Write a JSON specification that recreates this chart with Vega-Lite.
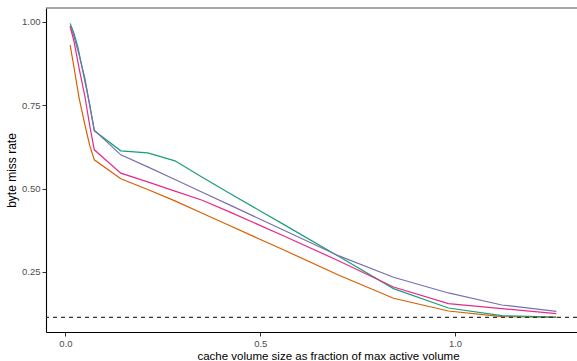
{
  "$schema": "https://vega.github.io/schema/vega-lite/v6.json",
  "width": 531,
  "height": 324,
  "autosize": {"type": "none"},
  "padding": {"left": 46, "top": 8, "right": 0, "bottom": 29},
  "background": "white",
  "config": {
    "view": {"stroke": null},
    "font": "Liberation Sans",
    "axis": {"grid": false}
  },
  "datasets": {
    "curves": [
      {"s": "orange", "x": 0.012, "y": 0.930}, {"s": "orange", "x": 0.022, "y": 0.862}, {"s": "orange", "x": 0.035, "y": 0.771}, {"s": "orange", "x": 0.05, "y": 0.690}, {"s": "orange", "x": 0.062, "y": 0.630}, {"s": "orange", "x": 0.074, "y": 0.586}, {"s": "orange", "x": 0.142, "y": 0.529}, {"s": "orange", "x": 0.211, "y": 0.497}, {"s": "orange", "x": 0.281, "y": 0.463}, {"s": "orange", "x": 0.351, "y": 0.426}, {"s": "orange", "x": 0.421, "y": 0.389}, {"s": "orange", "x": 0.562, "y": 0.315}, {"s": "orange", "x": 0.702, "y": 0.240}, {"s": "orange", "x": 0.842, "y": 0.171}, {"s": "orange", "x": 0.983, "y": 0.133}, {"s": "orange", "x": 1.12, "y": 0.116}, {"s": "orange", "x": 1.26, "y": 0.114},
      {"s": "green", "x": 0.012, "y": 0.995}, {"s": "green", "x": 0.022, "y": 0.965}, {"s": "green", "x": 0.032, "y": 0.923}, {"s": "green", "x": 0.05, "y": 0.820}, {"s": "green", "x": 0.062, "y": 0.753}, {"s": "green", "x": 0.074, "y": 0.673}, {"s": "green", "x": 0.142, "y": 0.613}, {"s": "green", "x": 0.211, "y": 0.607}, {"s": "green", "x": 0.281, "y": 0.583}, {"s": "green", "x": 0.351, "y": 0.534}, {"s": "green", "x": 0.421, "y": 0.486}, {"s": "green", "x": 0.562, "y": 0.391}, {"s": "green", "x": 0.702, "y": 0.296}, {"s": "green", "x": 0.842, "y": 0.200}, {"s": "green", "x": 0.983, "y": 0.142}, {"s": "green", "x": 1.12, "y": 0.119}, {"s": "green", "x": 1.26, "y": 0.115},
      {"s": "purple", "x": 0.012, "y": 0.988}, {"s": "purple", "x": 0.022, "y": 0.955}, {"s": "purple", "x": 0.035, "y": 0.900}, {"s": "purple", "x": 0.05, "y": 0.830}, {"s": "purple", "x": 0.062, "y": 0.750}, {"s": "purple", "x": 0.074, "y": 0.675}, {"s": "purple", "x": 0.142, "y": 0.601}, {"s": "purple", "x": 0.211, "y": 0.565}, {"s": "purple", "x": 0.281, "y": 0.527}, {"s": "purple", "x": 0.351, "y": 0.489}, {"s": "purple", "x": 0.421, "y": 0.451}, {"s": "purple", "x": 0.562, "y": 0.374}, {"s": "purple", "x": 0.702, "y": 0.298}, {"s": "purple", "x": 0.842, "y": 0.234}, {"s": "purple", "x": 0.983, "y": 0.187}, {"s": "purple", "x": 1.12, "y": 0.151}, {"s": "purple", "x": 1.26, "y": 0.132},
      {"s": "pink", "x": 0.012, "y": 0.985}, {"s": "pink", "x": 0.022, "y": 0.940}, {"s": "pink", "x": 0.035, "y": 0.860}, {"s": "pink", "x": 0.05, "y": 0.775}, {"s": "pink", "x": 0.062, "y": 0.690}, {"s": "pink", "x": 0.074, "y": 0.616}, {"s": "pink", "x": 0.142, "y": 0.546}, {"s": "pink", "x": 0.211, "y": 0.520}, {"s": "pink", "x": 0.281, "y": 0.492}, {"s": "pink", "x": 0.351, "y": 0.465}, {"s": "pink", "x": 0.421, "y": 0.430}, {"s": "pink", "x": 0.562, "y": 0.357}, {"s": "pink", "x": 0.702, "y": 0.283}, {"s": "pink", "x": 0.842, "y": 0.205}, {"s": "pink", "x": 0.983, "y": 0.155}, {"s": "pink", "x": 1.12, "y": 0.140}, {"s": "pink", "x": 1.26, "y": 0.125}
    ],
    "ref": [{"y": 0.114}]
  },
  "layer": [
    {
      "data": {"name": "curves"},
      "mark": {"type": "line", "strokeWidth": 1.2, "clip": true},
      "encoding": {
        "x": {
          "field": "x", "type": "quantitative",
          "scale": {"domain": [-0.05, 1.313], "nice": false, "zero": false},
          "axis": {
            "values": [0, 0.5, 1.0], "format": ".1f",
            "title": "cache volume size as fraction of max active volume",
            "titleFontSize": 11.5, "titleFontWeight": "normal", "titleColor": "#000000", "titlePadding": 3,
            "titleX": 282, "titleAlign": "center",
            "labelFontSize": 9.5, "labelColor": "#4d4d4d", "labelPadding": 2,
            "tickSize": 4, "tickColor": "#333333", "domainColor": "#000000", "domainWidth": 1.1
          }
        },
        "y": {
          "field": "y", "type": "quantitative",
          "scale": {"domain": [0.070, 1.041], "nice": false, "zero": false},
          "axis": {
            "values": [0.25, 0.5, 0.75, 1.0], "format": ".2f",
            "title": "byte miss rate",
            "titleFontSize": 12, "titleFontWeight": "normal", "titleColor": "#000000", "titlePadding": 3,
            "labelFontSize": 9.5, "labelColor": "#4d4d4d", "labelPadding": 2,
            "tickSize": 4, "tickColor": "#333333", "domainColor": "#000000", "domainWidth": 1.1
          }
        },
        "color": {
          "field": "s", "type": "nominal", "legend": null,
          "scale": {"domain": ["green", "orange", "purple", "pink"], "range": ["#1b9e77", "#d95f02", "#7570b3", "#e7298a"]}
        }
      }
    },
    {
      "data": {"name": "ref"},
      "mark": {"type": "rule", "strokeDash": [4, 4], "strokeWidth": 1.2, "color": "#333333"},
      "encoding": {
        "y": {"field": "y", "type": "quantitative"}
      }
    },
    {
      "data": {"name": "ref"},
      "mark": {"type": "rule", "strokeWidth": 1.2, "color": "#555555"},
      "encoding": {
        "y": {"datum": 1.041, "type": "quantitative"}
      }
    }
  ]
}
